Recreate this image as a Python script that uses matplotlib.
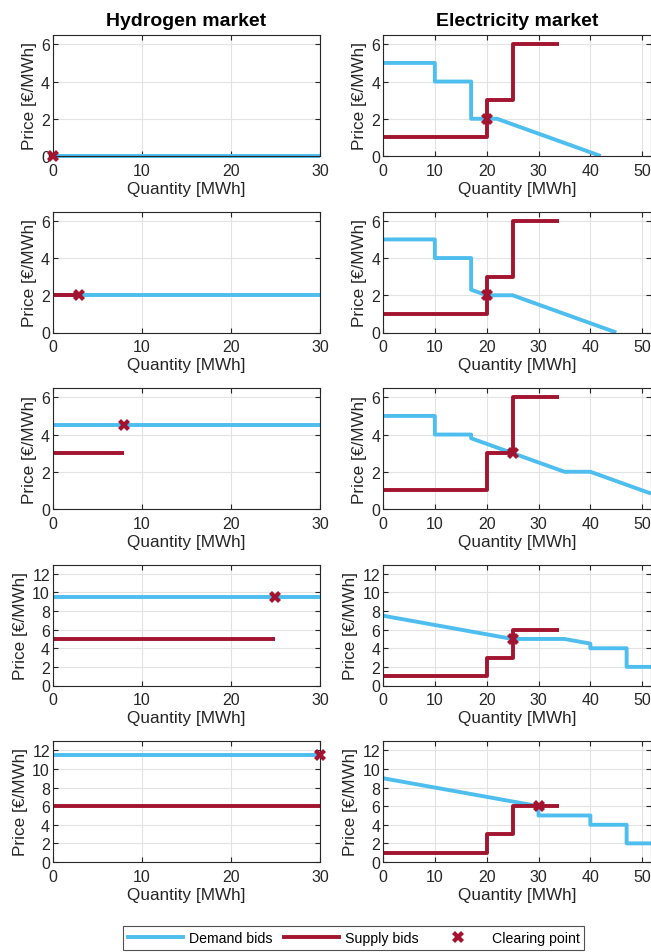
import matplotlib
matplotlib.use("Agg")
import matplotlib.pyplot as plt
from matplotlib.lines import Line2D

plt.rcParams['font.family'] = ['Liberation Sans', 'DejaVu Sans']

DEMAND_C = '#4DBEEE'
SUPPLY_C = '#A2142F'

# Hydrogen market
h2_demand_q = [[0, 30], [0, 30], [0, 30], [0, 30], [0, 30]]
h2_demand_p = [[0, 0], [2, 2], [4.5, 4.5], [9.5, 9.5], [11.5, 11.5]]
h2_supply_q = [[0, 0], [0, 3], [0, 8], [0, 25], [0, 30]]
h2_supply_p = [[0, 0], [2, 2], [3, 3], [5, 5], [6, 6]]
h2_clear_q = [0, 3, 8, 25, 30]
h2_clear_p = [0, 2, 4.5, 9.5, 11.5]

# Electricity market demand curves (piecewise points)
el_demand_q = [
    [0, 10, 10, 17, 17, 22, 42],
    [0, 10, 10, 17, 17, 20, 25, 45],
    [0, 10, 10, 17, 17, 35, 40, 51.7],
    [0, 25, 35, 40, 40, 47, 47, 51.7],
    [0, 30, 30, 40, 40, 47, 47, 51.7],
]
el_demand_p = [
    [5, 5, 4, 4, 2, 2, 0],
    [5, 5, 4, 4, 2.3, 2, 2, 0],
    [5, 5, 4, 4, 3.8, 2, 2, 0.83],
    [7.5, 5, 5, 4.5, 4, 4, 2, 2],
    [9, 6, 5, 5, 4, 4, 2, 2],
]
el_supply_q = [0, 20, 20, 25, 25, 34]
el_supply_p = [1, 1, 3, 3, 6, 6]
el_clear_q = [20, 20, 25, 25, 30]
el_clear_p = [2, 2, 3, 5, 6]

ylims = [6.5, 6.5, 6.5, 13, 13]
yticks_small = [0, 2, 4, 6]
yticks_big = [0, 2, 4, 6, 8, 10, 12]

W, H = 651, 953
fig = plt.figure(figsize=(W / 100, H / 100), dpi=100)

row_bottoms = [157, 333.5, 510, 686.5, 863]
ax_h = 121
left_x = [52.7, 383]
ax_w = 268

LW = 2.8
TICKFS = 11.5
LABFS = 12.3

def style(ax, xlim, xticks, ylim, yticks):
    ax.set_xlim(*xlim)
    ax.set_ylim(0, ylim)
    ax.set_xticks(xticks)
    ax.set_yticks(yticks)
    ax.grid(True, color='#e3e3e3', linewidth=0.8)
    ax.set_axisbelow(True)
    for s in ax.spines.values():
        s.set_color('#262626')
        s.set_linewidth(0.8)
    ax.tick_params(direction='in', top=True, right=True, length=3.5,
                   labelsize=TICKFS, colors='#262626')
    ax.tick_params(axis='x', pad=5)
    ax.tick_params(axis='y', pad=2)
    ax.set_xlabel('Quantity [MWh]', fontsize=LABFS, color='#262626', labelpad=2)
    ax.set_ylabel('Price [€/MWh]', fontsize=LABFS, color='#262626', labelpad=3)

for i in range(5):
    yb = row_bottoms[i]
    yt = ylims[i]
    ytk = yticks_small if yt < 10 else yticks_big
    # Hydrogen
    ax = fig.add_axes([left_x[0] / W, 1 - yb / H, 267.3 / W, ax_h / H])
    ax.plot(h2_demand_q[i], h2_demand_p[i], color=DEMAND_C, lw=LW, solid_capstyle='butt', clip_on=False)
    ax.plot(h2_supply_q[i], h2_supply_p[i], color=SUPPLY_C, lw=LW, solid_capstyle='butt', clip_on=False)
    ax.plot([h2_clear_q[i]], [h2_clear_p[i]], marker='X', color=SUPPLY_C, ms=8, mew=0, ls='none', clip_on=False, zorder=5)
    style(ax, (0, 30), [0, 10, 20, 30], yt, ytk)
    if i == 0:
        ax.set_title('Hydrogen market', fontsize=14, fontweight='bold', pad=7)
    # Electricity
    ax = fig.add_axes([left_x[1] / W, 1 - yb / H, ax_w / W, ax_h / H])
    ax.plot(el_demand_q[i], el_demand_p[i], color=DEMAND_C, lw=LW, solid_capstyle='butt')
    ax.plot(el_supply_q, el_supply_p, color=SUPPLY_C, lw=LW, solid_capstyle='butt')
    ax.plot([el_clear_q[i]], [el_clear_p[i]], marker='X', color=SUPPLY_C, ms=8, mew=0, ls='none', zorder=5)
    style(ax, (0, 51.7), [0, 10, 20, 30, 40, 50], yt, ytk)
    if i == 0:
        ax.set_title('Electricity market', fontsize=14, fontweight='bold', pad=7)

handles = [
    Line2D([], [], color=DEMAND_C, lw=LW),
    Line2D([], [], color=SUPPLY_C, lw=LW),
    Line2D([], [], color=SUPPLY_C, marker='X', ms=8, mew=0, ls='none'),
]
leg = fig.legend(handles, ['Demand bids', 'Supply bids', 'Clearing point'],
                 loc='center', bbox_to_anchor=(353.5 / W, 1 - 939 / H), ncol=3,
                 fontsize=10.2, frameon=True, fancybox=False, edgecolor='#262626',
                 handlelength=3.9, columnspacing=0.85, handletextpad=0.4,
                 borderpad=0.35, borderaxespad=0)
leg.get_frame().set_linewidth(0.8)

fig.savefig('out.png', dpi=100)
